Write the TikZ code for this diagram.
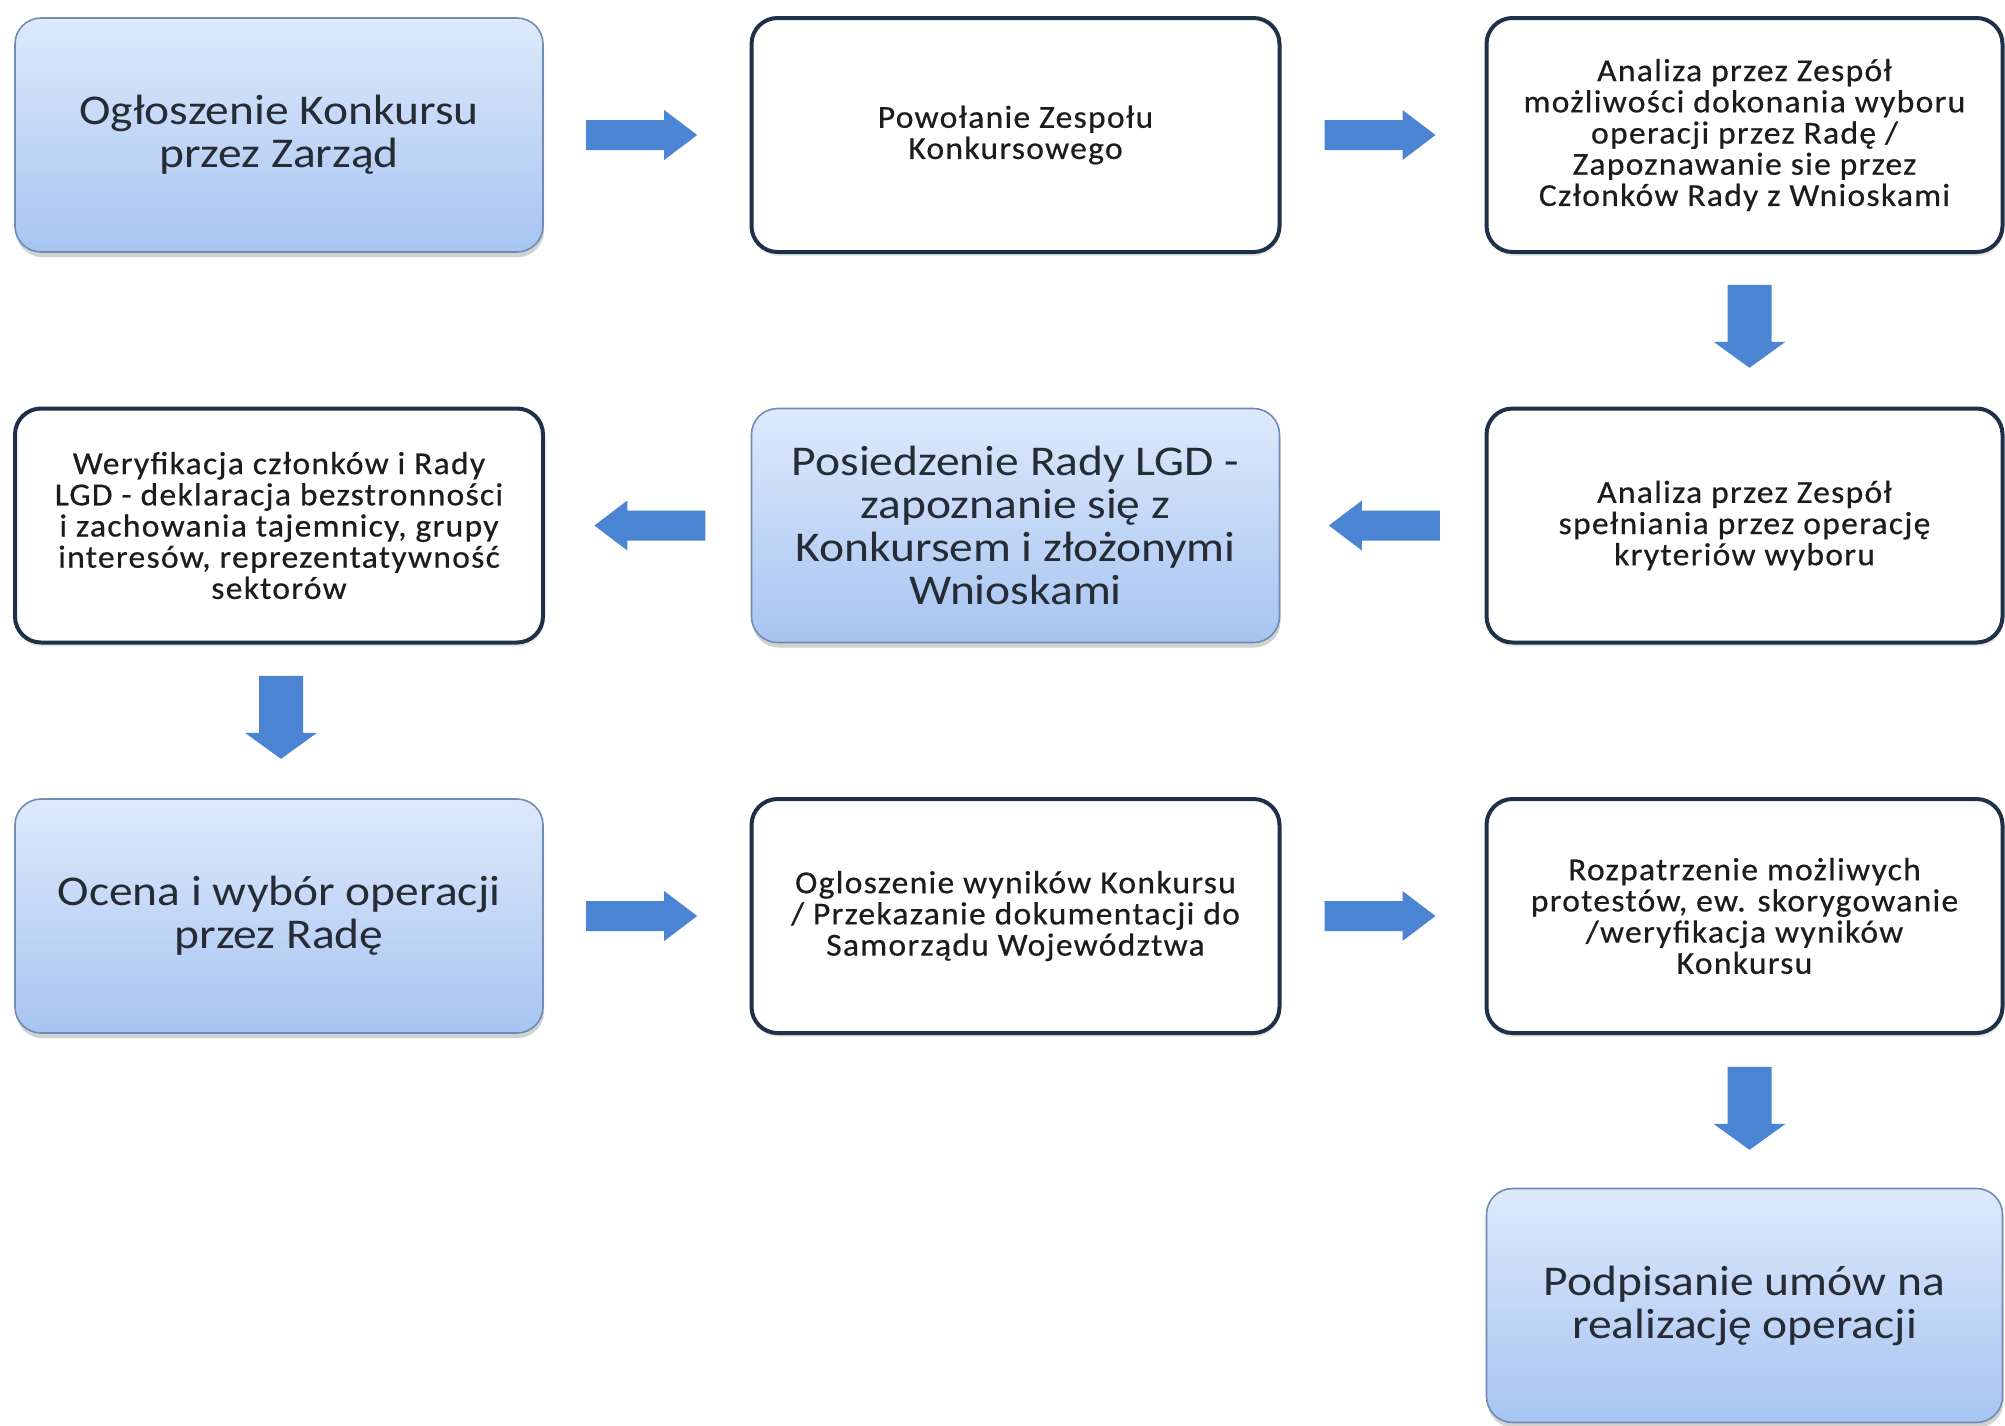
\documentclass[tikz,border=0pt]{standalone}
\usepackage{fontspec}
\setmainfont{Carlito}
\newfontfamily\bigfam{Carlito}[FakeStretch=1.12]
\newfontfamily\smallfam{Carlito}[FakeStretch=1.05,LetterSpace=4,FakeBold=0.5]
\usetikzlibrary{calc,shadows}
\definecolor{arrowblue}{RGB}{74,132,210}
\definecolor{navyedge}{RGB}{30,49,72}
\definecolor{blueedge}{RGB}{112,140,178}
\definecolor{bluetop}{RGB}{222,233,251}
\definecolor{bluebot}{RGB}{167,196,242}
\definecolor{bigtext}{RGB}{38,44,54}
\definecolor{smalltext}{RGB}{28,28,28}
\tikzset{
  box/.style={rounded corners=13pt, minimum width=264pt, minimum height=117pt, align=center, inner sep=2pt},
  bluebox/.style={box, draw=blueedge, line width=0.8pt, top color=bluetop, bottom color=bluebot,
     drop shadow={shadow xshift=0.5pt, shadow yshift=-2.5pt, opacity=0.25, fill=black!70},
     text=bigtext, font=\bigfam\fontsize{21.2}{21.4}\selectfont},
  whitebox/.style={box, draw=navyedge, line width=2pt, fill=white,
     drop shadow={shadow xshift=0.5pt, shadow yshift=-2pt, opacity=0.15, fill=black!60},
     text=smalltext, font=\smallfam\fontsize{16}{15.6}\selectfont},
  harr/.pic={\fill[arrowblue] (-55.5,-15) -- (22.5,-15) -- (22.5,-25) -- (55.5,0) -- (22.5,25) -- (22.5,15) -- (-55.5,15) -- cycle;},
  varr/.pic={\fill[arrowblue] (-41.5,-22) -- (15.5,-22) -- (15.5,-36) -- (41.5,0) -- (15.5,36) -- (15.5,22) -- (-41.5,22) -- cycle;}
}
\begin{document}
\begin{tikzpicture}[x=0.5pt,y=-0.5pt]
\useasboundingbox[fill=white] (0,0) rectangle (2005,1425);
% row 1
\node[bluebox] (A) at (279,135) {Ogłoszenie Konkursu\\przez Zarząd};
\node[whitebox] (B) at (1015.5,135) {Powołanie Zespołu\\Konkursowego};
\node[whitebox, minimum width=258pt] (C) at (1744.5,135) {Analiza przez Zespół\\możliwości dokonania wyboru\\operacji przez Radę /\\Zapoznawanie sie przez\\Członków Rady z Wnioskami};
% row 2
\node[whitebox] (D) at (279,525.5) {Weryfikacja członków i Rady\\LGD - deklaracja bezstronności\\i zachowania tajemnicy, grupy\\interesów, reprezentatywność\\sektorów};
\node[bluebox] (E) at (1015.5,525.5) {Posiedzenie Rady LGD -\\zapoznanie się z\\Konkursem i złożonymi\\Wnioskami};
\node[whitebox, minimum width=258pt] (F) at (1744.5,525.5) {Analiza przez Zespół\\spełniania przez operację\\kryteriów wyboru};
% row 3
\node[bluebox] (G) at (279,916) {Ocena i wybór operacji\\przez Radę};
\node[whitebox] (H) at (1015.5,916) {Ogloszenie wyników Konkursu\\/ Przekazanie dokumentacji do\\Samorządu Województwa};
\node[whitebox, minimum width=258pt] (I) at (1744.5,916) {Rozpatrzenie możliwych\\protestów, ew. skorygowanie\\/weryfikacja wyników\\Konkursu};
% row 4
\node[bluebox, minimum width=258pt] (J) at (1744.5,1305.5) {Podpisanie umów na\\realizację operacji};
% arrows
\coordinate (ab) at ($(A.east)!0.5!(B.west)+(-5,0)$);
\coordinate (bc) at ($(B.east)!0.5!(C.west)+(-3,0)$);
\coordinate (cf) at ($(C.south)!0.5!(F.north)+(5,-4)$);
\coordinate (fe) at ($(F.west)!0.5!(E.east)+(2,0)$);
\coordinate (ed) at ($(E.west)!0.5!(D.east)+(2,0)$);
\coordinate (dg) at ($(D.south)!0.5!(G.north)+(2,-4)$);
\coordinate (gh) at ($(G.east)!0.5!(H.west)+(-5,0)$);
\coordinate (hi) at ($(H.east)!0.5!(I.west)+(-3,0)$);
\coordinate (ij) at ($(I.south)!0.5!(J.north)+(5,-3)$);
\pic at (ab) {harr};
\pic at (bc) {harr};
\pic[rotate=-90] at (cf) {varr};
\pic[rotate=180] at (fe) {harr};
\pic[rotate=180] at (ed) {harr};
\pic[rotate=-90] at (dg) {varr};
\pic at (gh) {harr};
\pic at (hi) {harr};
\pic[rotate=-90] at (ij) {varr};
\end{tikzpicture}
\end{document}
